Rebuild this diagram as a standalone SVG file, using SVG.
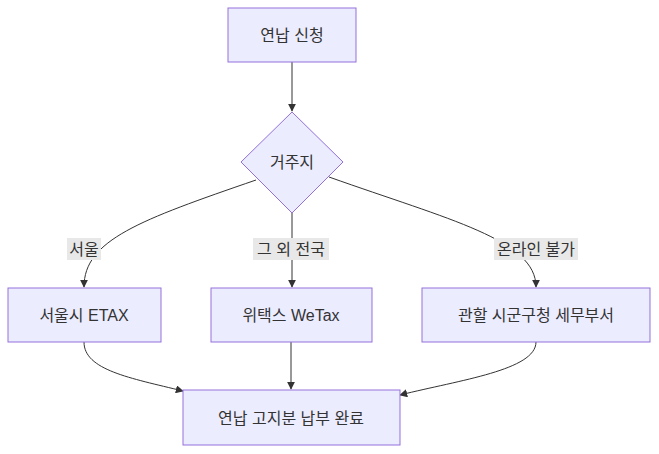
<svg xmlns="http://www.w3.org/2000/svg" width="659" height="454" viewBox="0 0 659 454">
<style>
.n{fill:#ECECFF;stroke:#9370DB;stroke-width:1}
.t{font-family:"Liberation Sans","Noto Sans CJK KR",sans-serif;font-size:16px;fill:#333;text-anchor:middle;dominant-baseline:central}
.e{fill:none;stroke:#333;stroke-width:1}
.lb{fill:#e8e8e8}
</style>
<defs><marker id="a" viewBox="0 0 10 10" refX="9" refY="5" markerWidth="8" markerHeight="8" orient="auto"><path d="M0,0L10,5L0,10z" fill="#333"/></marker></defs>
<rect width="659" height="454" fill="#fff"/>
<g id="edges">
<path class="e" d="M292,62V111" marker-end="url(#a)"/>
<path class="e" d="M256,180C140,220 84,240 84,287" marker-end="url(#a)"/>
<path class="e" d="M292,213V287" marker-end="url(#a)"/>
<path class="e" d="M329,177C450,220 536,240 536,287" marker-end="url(#a)"/>
<path class="e" d="M84,342C84,370 130,378 183,391" marker-end="url(#a)"/>
<path class="e" d="M291,342V389" marker-end="url(#a)"/>
<path class="e" d="M536,342C536,370 460,380 400,395" marker-end="url(#a)"/>
<rect class="lb" x="67" y="238" width="34" height="22"/><text class="t" x="84" y="249">서울</text>
<rect class="lb" x="253" y="238" width="76" height="22"/><text class="t" x="291" y="249">그 외 전국</text>
<rect class="lb" x="494" y="238" width="84" height="22"/><text class="t" x="536" y="249">온라인 불가</text>
</g>
<g id="n1"><rect class="n" x="228" y="8" width="128" height="54"/><text class="t" x="292" y="35">연납 신청</text></g>
<g id="n2"><polygon class="n" points="292,112 343,162 292,213 241,162"/><text class="t" x="292" y="162">거주지</text></g>
<g id="n3"><rect class="n" x="8" y="288" width="153" height="54"/><text class="t" x="84" y="315">서울시 ETAX</text></g>
<g id="n4"><rect class="n" x="211" y="288" width="161" height="54"/><text class="t" x="291" y="315">위택스 WeTax</text></g>
<g id="n5"><rect class="n" x="422" y="288" width="228" height="54"/><text class="t" x="536" y="315">관할 시군구청 세무부서</text></g>
<g id="n6"><rect class="n" x="183" y="390" width="217" height="55"/><text class="t" x="291" y="418">연납 고지분 납부 완료</text></g>
</svg>
